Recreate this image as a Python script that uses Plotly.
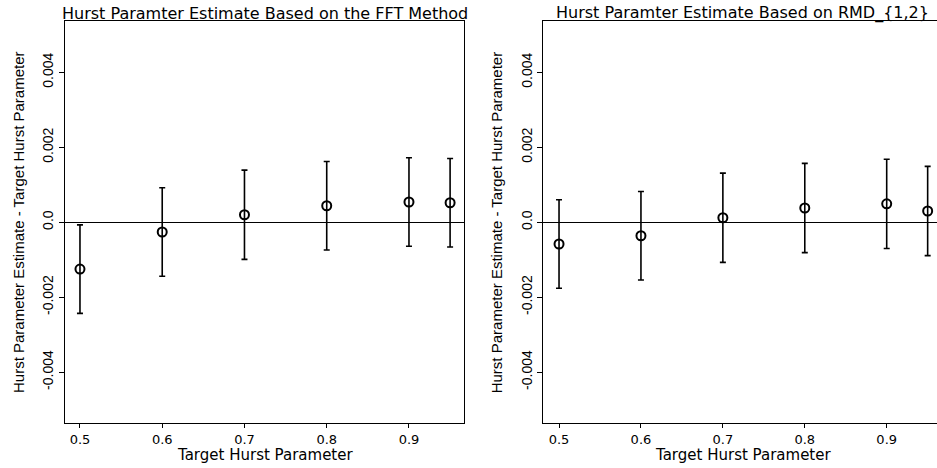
import plotly.graph_objects as go

# ---- data ----
target_h = [0.5, 0.6, 0.7, 0.8, 0.9, 0.95]
fft_diff = [-0.00125, -0.00026, 0.00020, 0.00044, 0.00054, 0.00052]
fft_err = [0.00118, 0.00118, 0.00119, 0.00118, 0.00118, 0.00118]
rmd_diff = [-0.00058, -0.00036, 0.00012, 0.00038, 0.00049, 0.00030]
rmd_err = [0.00118, 0.00118, 0.00119, 0.00119, 0.00119, 0.00119]

x_ticks = [0.5, 0.6, 0.7, 0.8, 0.9]
x_ticktext = ["0.5", "0.6", "0.7", "0.8", "0.9"]
y_ticks = [-0.004, -0.002, 0.0, 0.002, 0.004]
y_ticktext = ["-0.004", "-0.002", "0.0", "0.002", "0.004"]

titles = ["Hurst Paramter Estimate Based on the FFT Method",
          "Hurst Paramter Estimate Based on RMD_{1,2}"]
x_title = "Target Hurst Parameter"
y_title = "Hurst Parameter Estimate - Target Hurst Parameter"

W, H = 937, 468
BLACK = "#000000"
HFONT = "DejaVu Sans"
VFONT = "Liberation Sans, Arial"

fig = go.Figure()


def add_panel(idx, yvals, errs):
    xa = "x" if idx == 1 else "x2"
    ya = "y" if idx == 1 else "y2"
    fig.add_trace(go.Scatter(
        x=target_h, y=yvals, xaxis=xa, yaxis=ya, mode="markers",
        marker=dict(symbol="circle-open", size=9, color=BLACK,
                    line=dict(width=2, color=BLACK)),
        error_y=dict(type="data", array=errs, visible=True,
                     color=BLACK, thickness=1.6, width=3),
        showlegend=False, hoverinfo="skip"))


add_panel(1, fft_diff, fft_err)
add_panel(2, rmd_diff, rmd_err)

# panel pixel geometry
left_px = [65, 464]
right_px = [543.3, 937]
top_px, bot_px = 21, 423
ydom = [1 - bot_px / H, 1 - top_px / H]

xcommon = dict(tickvals=x_ticks, ticktext=x_ticktext, ticks="outside",
               ticklen=4, tickcolor=BLACK, tickwidth=1, showgrid=False,
               zeroline=False, showline=True, linecolor=BLACK, linewidth=1,
               mirror=True, automargin=False,
               tickfont=dict(family=HFONT, size=13, color=BLACK))
ycommon = dict(tickvals=y_ticks, ticktext=y_ticktext, ticks="outside",
               ticklen=5, tickcolor=BLACK, tickwidth=1, showgrid=False,
               zeroline=True, zerolinecolor=BLACK, zerolinewidth=1,
               showline=True, linecolor=BLACK, linewidth=1,
               automargin=False, tickangle=-90, range=[-0.005355, 0.005368],
               tickfont=dict(family=VFONT, size=14, color=BLACK))

fig.update_layout(
    width=W, height=H,
    margin=dict(l=0, r=0, t=0, b=0),
    paper_bgcolor="white", plot_bgcolor="white",
    template="none",
    xaxis=dict(domain=[left_px[0] / W, left_px[1] / W], range=[0.4818, 0.9669],
               anchor="y", **xcommon),
    yaxis=dict(domain=ydom, anchor="x", mirror=True, **ycommon),
    xaxis2=dict(domain=[right_px[0] / W, 1.0], range=[0.4808, 0.9614],
                anchor="y2", **xcommon),
    yaxis2=dict(domain=ydom, anchor="x2", mirror=False, **ycommon),
)

annotations = []
for i, (xp, title) in enumerate(zip([left_px, [543.3, 942]], titles)):
    cx = (xp[0] + xp[1]) / 2 / W
    annotations.append(dict(text=title, x=cx, y=1 - 13 / H, xref="paper", yref="paper",
                            showarrow=False, xanchor="center", yanchor="middle",
                            font=dict(family=HFONT, size=16, color=BLACK)))
    annotations.append(dict(text=x_title, x=cx, y=1 - 455 / H, xref="paper", yref="paper",
                            showarrow=False, xanchor="center", yanchor="middle",
                            font=dict(family=HFONT, size=15, color=BLACK)))
    annotations.append(dict(text=y_title, x=(xp[0] - 46.5) / W, y=1 - 222.5 / H,
                            xref="paper", yref="paper", textangle=-90,
                            showarrow=False, xanchor="center", yanchor="middle",
                            font=dict(family=VFONT, size=15, color=BLACK)))
fig.update_layout(annotations=annotations)

fig.write_html("out.html")
